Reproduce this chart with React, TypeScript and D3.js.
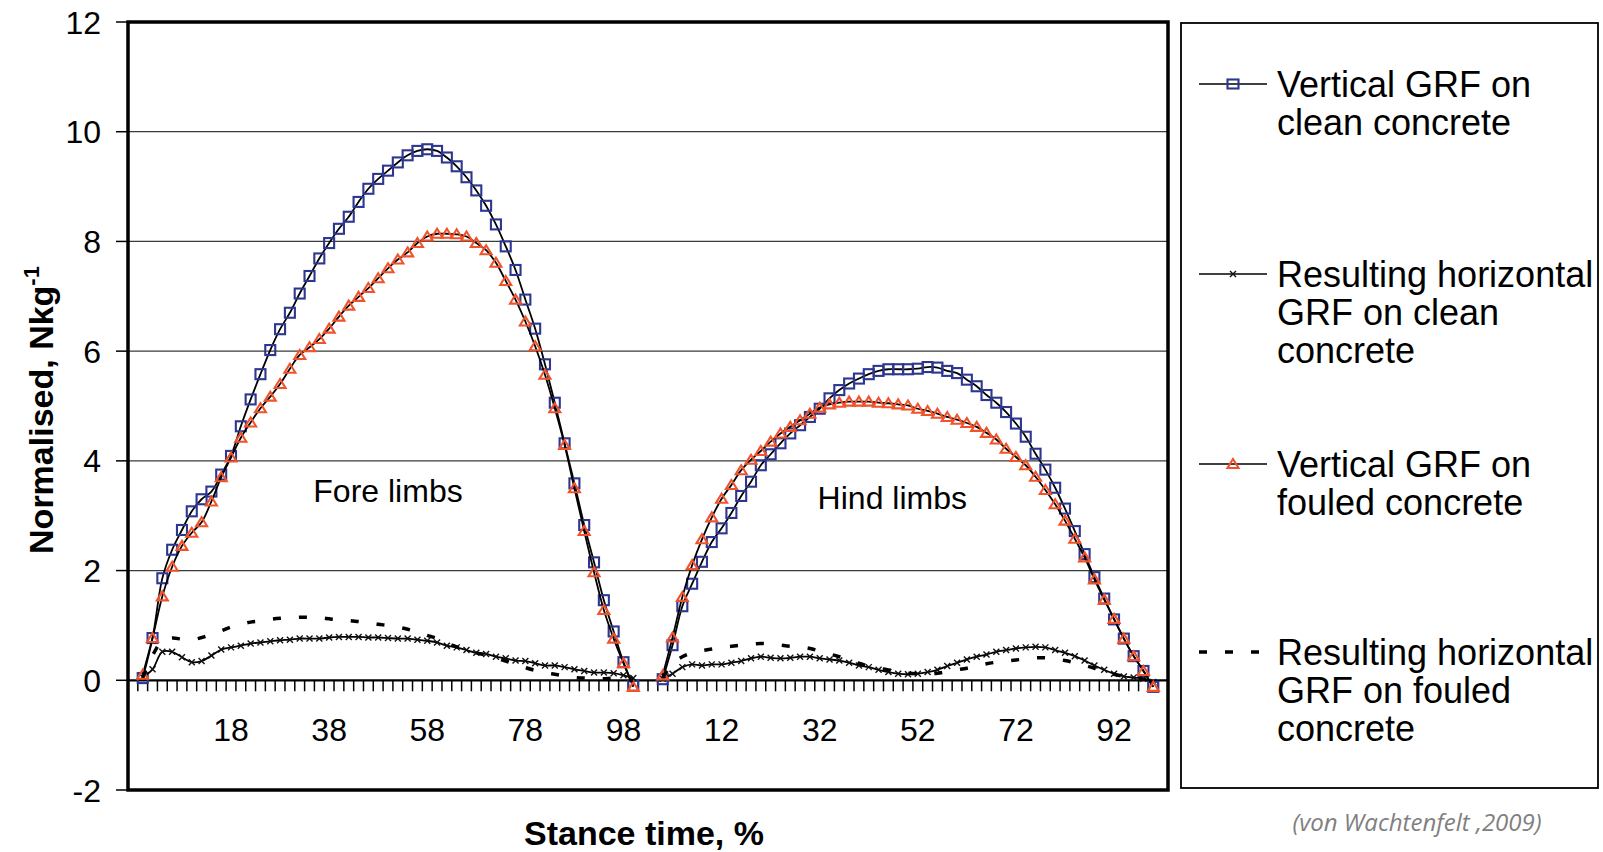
import React from 'react';
import * as d3 from 'd3';

const W = 1603;
const H = 852;

// stance time categories (%), one limb after the other
const foreStance = [0, 2, 4, 6, 8, 10, 12, 14, 16, 18, 20, 22, 24, 26, 28, 30, 32, 34, 36, 38, 40, 42, 44, 46, 48, 50, 52, 54, 56, 58, 60, 62, 64, 66, 68, 70, 72, 74, 76, 78, 80, 82, 84, 86, 88, 90, 92, 94, 96, 98, 100];
const hindStance = [0, 2, 4, 6, 8, 10, 12, 14, 16, 18, 20, 22, 24, 26, 28, 30, 32, 34, 36, 38, 40, 42, 44, 46, 48, 50, 52, 54, 56, 58, 60, 62, 64, 66, 68, 70, 72, 74, 76, 78, 80, 82, 84, 86, 88, 90, 92, 94, 96, 98, 100];

// fore limbs
const foreVertClean = [0.04, 0.77, 1.86, 2.38, 2.74, 3.08, 3.30, 3.44, 3.75, 4.09, 4.63, 5.12, 5.58, 6.02, 6.40, 6.70, 7.05, 7.37, 7.69, 7.97, 8.23, 8.45, 8.72, 8.96, 9.14, 9.29, 9.44, 9.57, 9.65, 9.68, 9.65, 9.53, 9.37, 9.17, 8.93, 8.65, 8.31, 7.91, 7.48, 6.94, 6.41, 5.76, 5.06, 4.32, 3.59, 2.83, 2.15, 1.46, 0.89, 0.33, -0.10];
const foreHorClean = [0.06, 0.20, 0.52, 0.52, 0.42, 0.33, 0.35, 0.45, 0.56, 0.60, 0.63, 0.67, 0.69, 0.71, 0.73, 0.74, 0.76, 0.76, 0.76, 0.78, 0.79, 0.79, 0.79, 0.78, 0.78, 0.77, 0.76, 0.76, 0.74, 0.72, 0.69, 0.63, 0.60, 0.55, 0.50, 0.48, 0.43, 0.40, 0.36, 0.35, 0.31, 0.27, 0.27, 0.24, 0.20, 0.17, 0.14, 0.14, 0.13, 0.09, 0.04];
const foreVertFouled = [0.10, 0.77, 1.53, 2.07, 2.45, 2.69, 2.88, 3.26, 3.70, 4.06, 4.42, 4.70, 4.96, 5.17, 5.40, 5.68, 5.93, 6.07, 6.22, 6.41, 6.63, 6.83, 6.99, 7.15, 7.33, 7.51, 7.67, 7.80, 7.97, 8.09, 8.14, 8.14, 8.13, 8.09, 7.97, 7.84, 7.61, 7.28, 6.94, 6.54, 6.09, 5.57, 4.96, 4.29, 3.50, 2.72, 1.97, 1.28, 0.76, 0.31, -0.12];
const foreHorFouled = [0.05, 0.45, 0.72, 0.77, 0.75, 0.74, 0.78, 0.84, 0.90, 0.97, 1.02, 1.06, 1.08, 1.11, 1.13, 1.14, 1.15, 1.15, 1.14, 1.12, 1.10, 1.09, 1.07, 1.05, 1.02, 1.00, 0.97, 0.93, 0.88, 0.82, 0.76, 0.68, 0.61, 0.55, 0.50, 0.46, 0.41, 0.35, 0.29, 0.23, 0.18, 0.14, 0.11, 0.08, 0.05, 0.04, 0.03, 0.03, 0.04, 0.03, 0.00];

// hind limbs
const hindVertClean = [0.02, 0.64, 1.35, 1.76, 2.16, 2.52, 2.77, 3.05, 3.36, 3.62, 3.92, 4.12, 4.32, 4.50, 4.65, 4.80, 4.95, 5.14, 5.29, 5.41, 5.50, 5.58, 5.64, 5.67, 5.67, 5.67, 5.68, 5.71, 5.70, 5.64, 5.60, 5.48, 5.36, 5.20, 5.06, 4.89, 4.68, 4.44, 4.13, 3.84, 3.51, 3.13, 2.72, 2.30, 1.88, 1.49, 1.11, 0.76, 0.44, 0.17, -0.12];
const hindHorClean = [0.03, 0.12, 0.24, 0.29, 0.27, 0.29, 0.29, 0.32, 0.35, 0.40, 0.43, 0.41, 0.40, 0.41, 0.43, 0.43, 0.40, 0.38, 0.36, 0.32, 0.27, 0.24, 0.19, 0.15, 0.12, 0.11, 0.12, 0.15, 0.19, 0.26, 0.32, 0.38, 0.43, 0.47, 0.52, 0.55, 0.58, 0.60, 0.61, 0.60, 0.55, 0.50, 0.44, 0.36, 0.27, 0.19, 0.12, 0.07, 0.05, 0.03, -0.03];
const hindVertFouled = [0.09, 0.78, 1.52, 2.10, 2.57, 2.97, 3.31, 3.56, 3.83, 4.02, 4.18, 4.35, 4.50, 4.62, 4.74, 4.86, 4.97, 5.03, 5.06, 5.08, 5.08, 5.08, 5.06, 5.05, 5.03, 5.01, 4.95, 4.91, 4.86, 4.80, 4.75, 4.69, 4.62, 4.51, 4.39, 4.22, 4.07, 3.92, 3.71, 3.47, 3.21, 2.91, 2.58, 2.24, 1.84, 1.47, 1.12, 0.76, 0.44, 0.17, -0.12];
const hindHorFouled = [0.05, 0.30, 0.43, 0.50, 0.54, 0.57, 0.60, 0.62, 0.64, 0.66, 0.67, 0.66, 0.64, 0.62, 0.61, 0.58, 0.53, 0.48, 0.43, 0.37, 0.31, 0.26, 0.22, 0.19, 0.16, 0.13, 0.12, 0.12, 0.13, 0.16, 0.19, 0.22, 0.26, 0.30, 0.33, 0.35, 0.37, 0.39, 0.41, 0.41, 0.39, 0.36, 0.32, 0.27, 0.22, 0.16, 0.11, 0.07, 0.04, 0.02, 0.00];

const yTicks = [-2, 0, 2, 4, 6, 8, 10, 12];
const yGrid = [2, 4, 6, 8, 10];
const foreTickLabels = [18, 38, 58, 78, 98];
const hindTickLabels = [12, 32, 52, 72, 92];

const BLUE = '#2e3790';
const ORANGE = '#f0532b';
const FONT = "'Liberation Sans', Arial, sans-serif";

// one blank category before, two between the limbs, one after
const BLANK_START = 1;
const GAP = 2;
const hindOffset = BLANK_START + foreStance.length + GAP;
const nCats = hindOffset + hindStance.length + 1;

const joinLimbs = (fore: number[], hind: number[]): (number | null)[] => [
  null,
  ...fore,
  null,
  null,
  ...hind,
  null,
];

const series = [
  { name: 'vertClean', values: joinLimbs(foreVertClean, hindVertClean), marker: 'square', dash: null },
  { name: 'horClean', values: joinLimbs(foreHorClean, hindHorClean), marker: 'x', dash: null },
  { name: 'vertFouled', values: joinLimbs(foreVertFouled, hindVertFouled), marker: 'triangle', dash: null },
  { name: 'horFouled', values: joinLimbs(foreHorFouled, hindHorFouled), marker: null, dash: '8 18' },
];

const legendItems = [
  { lines: ['Vertical GRF on', 'clean concrete'], marker: 'square', dash: false, y: 84 },
  { lines: ['Resulting horizontal', 'GRF on clean', 'concrete'], marker: 'x', dash: false, y: 274 },
  { lines: ['Vertical GRF on', 'fouled concrete'], marker: 'triangle', dash: false, y: 464 },
  { lines: ['Resulting horizontal', 'GRF on fouled', 'concrete'], marker: null, dash: true, y: 652 },
];

const Marker = ({ type, x, y, w = 10, h = 10 }: { type: string | null; x: number; y: number; w?: number; h?: number }) => {
  if (type === 'square')
    return <rect x={x - w / 2} y={y - h / 2} width={w} height={h} fill="none" stroke={BLUE} strokeWidth={2.1} />;
  if (type === 'triangle')
    return (
      <path
        d={`M${x},${y - 5}L${x + 5.5},${y + 4}L${x - 5.5},${y + 4}Z`}
        fill="none"
        stroke={ORANGE}
        strokeWidth={2.1}
      />
    );
  if (type === 'x')
    return (
      <path
        d={`M${x - 3},${y - 3}L${x + 3},${y + 3}M${x - 3},${y + 3}L${x + 3},${y - 3}`}
        stroke="#111"
        strokeWidth={1.4}
      />
    );
  return null;
};

export default function App() {
  const plot = { left: 128, right: 1168, top: 22, bottom: 790 };

  const x = d3
    .scaleBand<number>()
    .domain(d3.range(nCats))
    .range([plot.left, plot.right])
    .padding(0);
  const bw = x.bandwidth();
  const cx = (k: number) => (x(k) ?? 0) + bw / 2;

  const y = d3.scaleLinear().domain([-2, 12]).range([plot.bottom, plot.top]);

  const lineGen = d3
    .line<{ k: number; v: number | null }>()
    .defined((d) => d.v !== null)
    .x((d) => cx(d.k))
    .y((d) => y(d.v as number))
    .curve(d3.curveCatmullRom.alpha(0.5));

  const xTicks = [
    ...foreTickLabels.map((v) => ({ label: String(v), k: BLANK_START + foreStance.indexOf(v) })),
    ...hindTickLabels.map((v) => ({ label: String(v), k: hindOffset + hindStance.indexOf(v) })),
  ];

  const y0 = y(0);

  return (
    <svg
      width={W}
      height={H}
      style={{ position: 'absolute', left: 0, top: 0, display: 'block', background: '#fff' }}
      fontFamily={FONT}
    >
      <rect width={W} height={H} fill="#fff" />

      {/* gridlines */}
      {yGrid.map((t) => (
        <line key={t} x1={plot.left} x2={plot.right} y1={y(t)} y2={y(t)} stroke="#3a3a3a" strokeWidth={1.3} />
      ))}

      {/* y ticks + labels */}
      {yTicks.map((t) => (
        <g key={t}>
          <line x1={plot.left - 12} x2={plot.left} y1={y(t)} y2={y(t)} stroke="#000" strokeWidth={1.5} />
          <text x={101} y={y(t) + 11.5} textAnchor="end" fontSize={32} fill="#000">
            {t}
          </text>
        </g>
      ))}

      {/* category axis at zero */}
      <line x1={plot.left} x2={plot.right} y1={y0} y2={y0} stroke="#000" strokeWidth={2.2} />
      {d3.range(1, nCats).map((k) => (
        <line key={k} x1={x(k)} x2={x(k)} y1={y0} y2={y0 + 11} stroke="#000" strokeWidth={1.5} />
      ))}
      {xTicks.map((t) => (
        <text key={t.k} x={cx(t.k)} y={y0 + 61} textAnchor="middle" fontSize={32} fill="#000">
          {t.label}
        </text>
      ))}

      {/* series */}
      {series.map((s) => {
        const pts = s.values.map((v, k) => ({ k, v }));
        return (
          <g key={s.name}>
            <path
              d={lineGen(pts) ?? ''}
              fill="none"
              stroke="#000"
              strokeWidth={s.dash ? 3.5 : 1.8}
              strokeDasharray={s.dash ?? undefined}
            />
            {s.marker &&
              pts
                .filter((d) => d.v !== null)
                .map((d) => <Marker key={d.k} type={s.marker} x={cx(d.k)} y={y(d.v as number)} />)}
          </g>
        );
      })}

      {/* limb annotations */}
      <text x={cx(BLANK_START + foreStance.indexOf(50))} y={y(3.45) + 11} textAnchor="middle" fontSize={32}>
        Fore limbs
      </text>
      <text x={cx(hindOffset + hindStance.indexOf(46)) + bw * 0.4} y={y(3.32) + 11} textAnchor="middle" fontSize={32}>
        Hind limbs
      </text>

      {/* plot frame */}
      <rect
        x={plot.left}
        y={plot.top}
        width={plot.right - plot.left}
        height={plot.bottom - plot.top}
        fill="none"
        stroke="#000"
        strokeWidth={3.5}
      />

      {/* axis titles */}
      <text x={644} y={845} textAnchor="middle" fontSize={34} fontWeight="bold">
        Stance time, %
      </text>
      <text transform="translate(53,410) rotate(-90)" textAnchor="middle" fontSize={34} fontWeight="bold">
        Normalised, Nkg
        <tspan fontSize={22} dy={-14}>
          -1
        </tspan>
      </text>

      {/* legend */}
      <rect x={1181} y={23} width={417} height={765} fill="none" stroke="#000" strokeWidth={1.8} />
      {legendItems.map((it, i) => (
        <g key={i}>
          {it.dash ? (
            <line x1={1199} x2={1262} y1={it.y} y2={it.y} stroke="#000" strokeWidth={3.5} strokeDasharray="8 18" />
          ) : (
            <line x1={1199} x2={1267} y1={it.y} y2={it.y} stroke="#000" strokeWidth={1.6} />
          )}
          <Marker type={it.marker} x={1233} y={it.y} w={11} h={9} />
          {it.lines.map((ln, j) => (
            <text key={j} x={1277} y={it.y + j * 38 + 12.5} fontSize={36} fill="#000">
              {ln}
            </text>
          ))}
        </g>
      ))}

      {/* source note */}
      <text
        x={1417}
        y={831}
        textAnchor="middle"
        fontSize={24}
        fontStyle="italic"
        fill="#808080"
        fontFamily="'Open Sans', 'DejaVu Sans', sans-serif"
      >
        (von Wachtenfelt ,2009)
      </text>
    </svg>
  );
}
